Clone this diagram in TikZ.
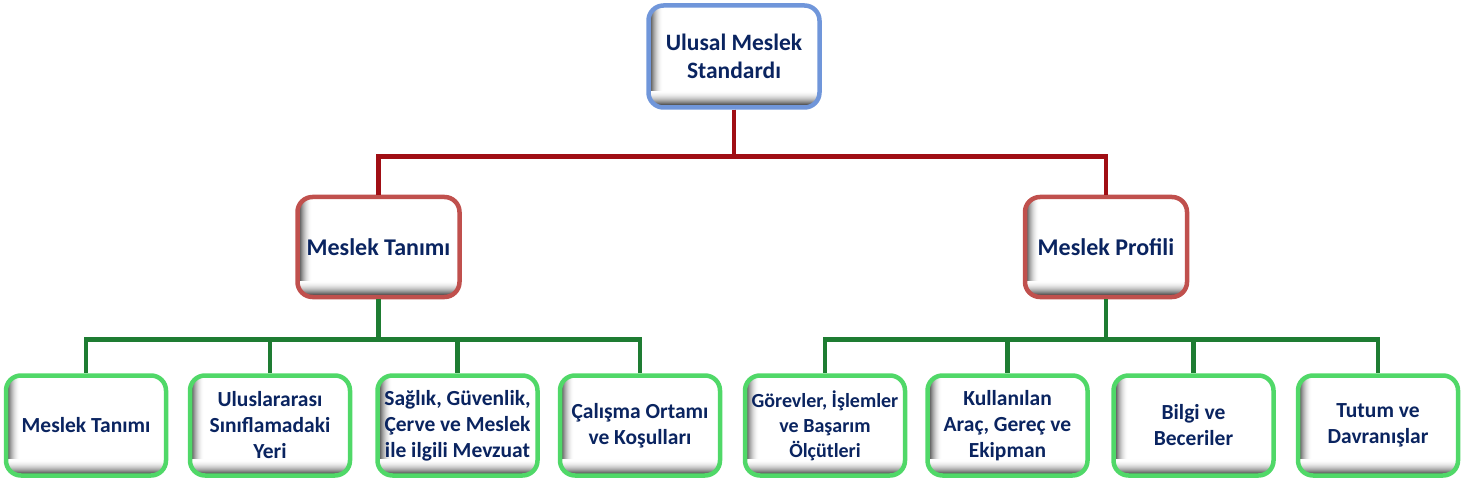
\documentclass[tikz,border=0pt]{standalone}
\usepackage{fontspec}
\setmainfont{Carlito}
\usepackage{tikz}

\definecolor{navytxt}{RGB}{10,36,96}
\definecolor{topblue}{RGB}{112,150,218}
\definecolor{midred}{RGB}{192,80,77}
\definecolor{lowgreen}{RGB}{80,216,104}
\definecolor{redline}{RGB}{160,14,20}
\definecolor{greenline}{RGB}{30,124,50}

\tikzset{
	bevelbox/.style={draw, line width=4.5pt, rounded corners=15pt, fill=white,
		align=center, text=navytxt, inner sep=0pt,
		path picture={
			\begin{scope}[sharp corners]
			\foreach \i in {0,...,13}{
				\pgfmathsetmacro\shd{80*(1-\i/14)^2}
				\fill[black!\shd] ([xshift=\i pt]path picture bounding box.south west)
					rectangle ([xshift={\i pt+1.1pt}]path picture bounding box.north west);
			}
			\foreach \i in {0,...,15}{
				\pgfmathsetmacro\shd{85*(1-\i/16)^2}
				\fill[black!\shd] ([yshift=\i pt]path picture bounding box.south west)
					rectangle ([yshift={\i pt+1.1pt}]path picture bounding box.south east);
			}
			\end{scope}
		}},
	topbox/.style={bevelbox, draw=topblue, minimum width=171pt, minimum height=102pt,
		font=\bfseries\fontsize{23.5}{28}\selectfont},
	midbox/.style={bevelbox, draw=midred, minimum width=162pt, minimum height=100pt,
		font=\bfseries\fontsize{24}{28}\selectfont},
	lowbox/.style={bevelbox, draw=lowgreen, minimum width=160pt, minimum height=100pt,
		font=\bfseries\fontsize{21.5}{26}\selectfont},
	redlink/.style={draw=redline, line width=4.5pt},
	greenlink/.style={draw=greenline, line width=4.5pt}
}

\begin{document}
\begin{tikzpicture}[x=1pt, y=-1pt]
	\useasboundingbox (0,0) rectangle (1464,481);

	\node[topbox] (standart) at (734,56.5) {Ulusal Meslek\\Standardı};

	\node[midbox] (tanim) at (378.5,247) {Meslek Tanımı};
	\node[midbox] (profil) at (1106,247) {Meslek Profili};

	% alt kutular
	\node[lowbox] (b1) at (86,425.5) {Meslek Tanımı};
	\node[lowbox] (b2) at (270,425.5) {Uluslararası\\Sınıflamadaki\\Yeri};
	\node[lowbox] (b3) at (457.5,425.5) {Sağlık, Güvenlik,\\Çerve ve Meslek\\ile ilgili Mevzuat};
	\node[lowbox] (b4) at (640,425.5) {Çalışma Ortamı\\ve Koşulları};
	\node[lowbox, font=\bfseries\fontsize{20}{25}\selectfont] (b5) at (825,425.5) {Görevler, İşlemler\\ve Başarım\\Ölçütleri};
	\node[lowbox] (b6) at (1007.5,425.5) {Kullanılan\\Araç, Gereç ve\\Ekipman};
	\node[lowbox] (b7) at (1193.5,425.5) {Bilgi ve\\Beceriler};
	\node[lowbox] (b8) at (1378,425.5) {Tutum ve\\Davranışlar};

	\draw[redlink] (standart.south) -- ++(0,47) -| (tanim.north);
	\draw[redlink] (standart.south) -- ++(0,47) -| (profil.north);

	\foreach \b in {b1,b2,b3,b4}
		\draw[greenlink] (tanim.south) -- ++(0,40) -| (\b.north);
	\foreach \b in {b5,b6,b7,b8}
		\draw[greenlink] (profil.south) -- ++(0,40) -| (\b.north);
\end{tikzpicture}
\end{document}
